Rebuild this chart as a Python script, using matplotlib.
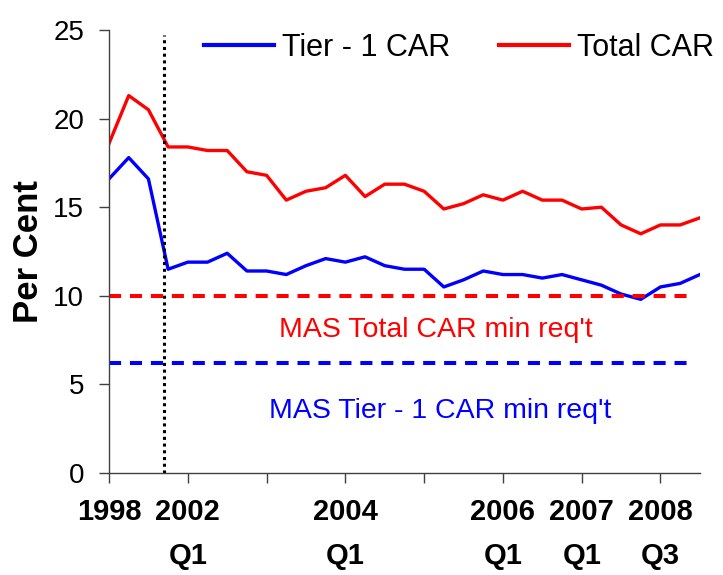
import matplotlib.pyplot as plt
import numpy as np

plt.rcParams['font.family'] = ['Liberation Sans', 'DejaVu Sans']

# 1998-2001 annual, then quarterly from 2002 Q1 to 2008 Q3
periods = np.arange(31)
tier1_car = [16.6, 17.8, 16.6, 11.5, 11.9, 11.9, 12.4, 11.4, 11.4, 11.2, 11.7,
             12.1, 11.9, 12.2, 11.7, 11.5, 11.5, 10.5, 10.9, 11.4, 11.2, 11.2,
             11.0, 11.2, 10.9, 10.6, 10.1, 9.8, 10.5, 10.7, 11.2]
total_car = [18.6, 21.3, 20.5, 18.4, 18.4, 18.2, 18.2, 17.0, 16.8, 15.4, 15.9,
             16.1, 16.8, 15.6, 16.3, 16.3, 15.9, 14.9, 15.2, 15.7, 15.4, 15.9,
             15.4, 15.4, 14.9, 15.0, 14.0, 13.5, 14.0, 14.0, 14.4]
mas_total_min = 10
mas_tier1_min = 6.2
tick_pos = [0, 4, 8, 12, 16, 20, 24, 28]
tick_labels = ['1998', '2002\nQ1', '', '2004\nQ1', '', '2006\nQ1', '2007\nQ1', '2008\nQ3']

fig = plt.figure(figsize=(7.23, 5.75), dpi=100)
ax = fig.add_axes([0.1508, 0.1774, 0.8172, 0.7704])

ax.plot(periods, tier1_car, color='#0000FF', lw=2.4, label='Tier - 1 CAR')
ax.plot(periods, total_car, color='#FF0000', lw=2.4, label='Total CAR')

ax.hlines(mas_total_min, 0, 29.4, colors='#FF0000', lw=2.9, linestyles=(0, (3, 2.2)))
ax.hlines(mas_tier1_min, 0, 29.4, colors='#0000FF', lw=2.9, linestyles=(0, (3, 2.2)))
ax.vlines(2.8, 0, 24.7, colors='black', lw=2.2, linestyles=(0, (1, 1.2)))

ax.text(16.6, 7.67, "MAS Total CAR min req't", color='#FF0000', fontsize=20.5,
        ha='center', va='baseline')
ax.text(16.8, 3.10, "MAS Tier - 1 CAR min req't", color='#0000FF', fontsize=20.5,
        ha='center', va='baseline')

ax.set_xlim(0, 30)
ax.set_ylim(0, 25)
ax.set_yticks([0, 5, 10, 15, 20, 25])
ax.set_xticks(tick_pos)
ax.set_xticklabels(tick_labels, fontweight='bold', fontsize=21, linespacing=1.75)
ax.tick_params(axis='y', labelsize=20, pad=11)
ax.tick_params(axis='x', pad=11)
ax.tick_params(direction='out', length=7, width=1, color='#404040')

for side in ['top', 'right']:
    ax.spines[side].set_visible(False)
for side in ['left', 'bottom']:
    ax.spines[side].set_color('#404040')
    ax.spines[side].set_linewidth(1)

ax.set_ylabel('Per Cent', fontweight='bold', fontsize=25, labelpad=6)

leg = ax.legend(loc='center left', bbox_to_anchor=(204 / 723, 1 - 48 / 575),
                bbox_transform=fig.transFigure, ncol=2, frameon=False,
                fontsize=22, borderpad=0, borderaxespad=0, handlelength=2.3,
                handletextpad=0.25, columnspacing=1.6)
for line in leg.get_lines():
    line.set_linewidth(3)

fig.savefig('out.png', dpi=100)
